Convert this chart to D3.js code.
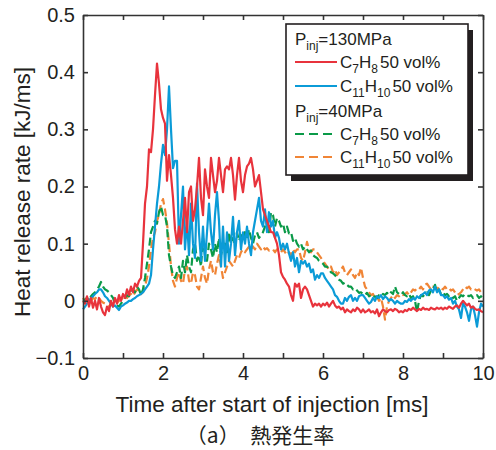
<!DOCTYPE html>
<html>
<head>
<meta charset="utf-8" />
<script src="https://d3js.org/d3.v7.min.js"></script>
<style>
    body { margin: 0; background: #fff; }
    text { font-family: "Liberation Sans", Arial, sans-serif; fill: #231f20; }
</style>
</head>
<body>
<div id="visu"></div>
<script>

// Dimensions
const largeur = 496;
const hauteur = 450;
const marge = {haut: 15, droite: 13, bas: 92, gauche: 83};

// Données : pas de temps 0.05 ms, de 0 à 10 ms
const pasTemps = 0.05;

const c7h8_130 = [
    0.0, -0.005, 0.008, -0.01, 0.005, -0.012, 0.0, -0.015, 0.005, -0.01, -0.02, -0.025, -0.01, -0.018, 0.0, -0.01, 0.005, -0.005, 0.01, 0.0,
    0.012, 0.005, 0.02, 0.01, 0.025, 0.015, 0.03, 0.025, 0.035, 0.04, 0.1, 0.17, 0.2, 0.265, 0.26, 0.3, 0.36, 0.415, 0.38, 0.335,
    0.32, 0.31, 0.21, 0.255, 0.22, 0.18, 0.125, 0.1, 0.13, 0.1, 0.14, 0.18, 0.12, 0.19, 0.2, 0.14, 0.16, 0.2, 0.25, 0.18,
    0.15, 0.23, 0.2, 0.18, 0.25, 0.22, 0.19, 0.21, 0.25, 0.22, 0.19, 0.23, 0.235, 0.23, 0.25, 0.22, 0.177, 0.22, 0.25, 0.21,
    0.19, 0.22, 0.235, 0.24, 0.25, 0.23, 0.2, 0.21, 0.22, 0.19, 0.16, 0.15, 0.14, 0.13, 0.12, 0.12, 0.11, 0.1, 0.08, 0.05,
    0.042, 0.037, 0.03, 0.025, 0.01, 0.0, 0.03, 0.025, 0.03, 0.005, 0.02, 0.025, 0.02, 0.01, 0.0, -0.01, -0.005, -0.008, -0.005, -0.01,
    -0.005, -0.008, -0.003, -0.01, -0.005, 0.0, -0.008, -0.012, -0.01, -0.015, -0.012, -0.02, -0.015, -0.018, -0.02, -0.015, -0.018, -0.012, -0.015, -0.02,
    -0.015, -0.02, -0.018, -0.015, -0.02, -0.018, -0.022, -0.015, -0.027, -0.02, -0.015, -0.018, -0.02, -0.016, -0.015, -0.018, -0.014, -0.016, -0.02, -0.018,
    -0.02, -0.016, -0.018, -0.014, -0.016, -0.012, -0.015, -0.018, -0.014, -0.016, -0.012, -0.015, -0.014, -0.016, -0.012, -0.014, -0.015, -0.012, -0.014, -0.012,
    -0.015, -0.012, -0.014, -0.01, -0.012, -0.014, -0.01, -0.008, -0.012, -0.005, 0.0, -0.004, -0.008, -0.005, -0.012, -0.01, -0.014, -0.016, -0.015, -0.018,
    -0.02
];

const c11h10_130 = [
    -0.015, -0.01, -0.005, 0.0, 0.005, 0.008, 0.012, 0.015, 0.02, 0.02, 0.015, 0.008, 0.005, 0.0, -0.005, -0.01, -0.008, -0.012, -0.016, -0.01,
    -0.008, -0.005, -0.003, 0.0, 0.0, 0.003, 0.005, 0.008, 0.01, 0.012, 0.015, 0.02, 0.025, 0.03, 0.045, 0.09, 0.13, 0.17, 0.2, 0.24,
    0.273, 0.255, 0.3, 0.375, 0.3, 0.232, 0.245, 0.245, 0.1, 0.15, 0.2, 0.09, 0.14, 0.08, 0.17, 0.1, 0.075, 0.205, 0.12, 0.07,
    0.13, 0.07, 0.12, 0.17, 0.12, 0.09, 0.15, 0.19, 0.14, 0.06, 0.13, 0.06, 0.12, 0.07, 0.1, 0.147, 0.08, 0.12, 0.14, 0.09,
    0.12, 0.1, 0.13, 0.1, 0.08, 0.12, 0.14, 0.16, 0.18, 0.14, 0.13, 0.16, 0.12, 0.155, 0.13, 0.14, 0.11, 0.12, 0.11, 0.09,
    0.1, 0.09, 0.1, 0.083, 0.07, 0.085, 0.06, 0.075, 0.05, 0.07, 0.065, 0.07, 0.06, 0.065, 0.05, 0.055, 0.037, 0.045, 0.04, 0.048,
    0.048, 0.04, 0.035, 0.03, 0.025, 0.02, 0.01, 0.007, 0.0, -0.005, -0.005, 0.005, 0.0, 0.007, 0.01, 0.0, 0.005, 0.0, 0.008, 0.01,
    0.01, 0.005, 0.0, -0.005, -0.002, 0.005, 0.0, 0.008, 0.005, 0.01, 0.003, 0.008, 0.005, 0.0, 0.003, 0.0, -0.005, 0.0, -0.003, -0.005,
    -0.005, 0.0, -0.002, 0.003, 0.0, 0.005, 0.002, 0.008, 0.005, 0.01, 0.012, 0.015, 0.01, 0.018, 0.02, 0.015, 0.025, 0.015, 0.02, 0.01,
    0.01, 0.005, 0.008, 0.002, 0.005, -0.005, 0.0, -0.01, -0.015, -0.03, -0.005, -0.01, -0.02, -0.035, -0.015, -0.01, -0.025, -0.045, -0.02, -0.005,
    -0.01
];

const c7h8_40 = [
    0.0, 0.002, 0.005, 0.0, 0.008, 0.012, 0.015, 0.02, 0.025, 0.033, 0.025, 0.02, 0.018, 0.015, 0.01, 0.005, -0.005, -0.008, -0.01, -0.005,
    0.0, 0.005, 0.01, 0.008, 0.015, 0.02, 0.015, 0.025, 0.02, 0.01, 0.02, 0.04, 0.065, 0.09, 0.12, 0.13, 0.14, 0.135, 0.155, 0.165,
    0.15, 0.15, 0.13, 0.08, 0.06, 0.045, 0.04, 0.05, 0.06, 0.04, 0.07, 0.05, 0.08, 0.06, 0.05, 0.09, 0.1, 0.07, 0.08, 0.06,
    0.11, 0.08, 0.07, 0.1, 0.09, 0.075, 0.1, 0.085, 0.11, 0.08, 0.095, 0.1, 0.085, 0.12, 0.1, 0.11, 0.095, 0.12, 0.105, 0.115,
    0.107, 0.12, 0.11, 0.125, 0.11, 0.1, 0.115, 0.12, 0.11, 0.115, 0.12, 0.13, 0.14, 0.12, 0.155, 0.15, 0.13, 0.145, 0.14, 0.13,
    0.135, 0.12, 0.13, 0.118, 0.12, 0.105, 0.11, 0.1, 0.095, 0.1, 0.09, 0.095, 0.09, 0.085, 0.088, 0.08, 0.077, 0.075, 0.07, 0.068,
    0.065, 0.06, 0.06, 0.055, 0.05, 0.048, 0.045, 0.04, 0.037, 0.035, 0.03, 0.032, 0.028, 0.025, 0.025, 0.02, 0.022, 0.018, 0.014, 0.015,
    0.012, 0.01, 0.014, 0.008, 0.01, 0.006, 0.008, 0.005, 0.01, 0.008, 0.012, 0.01, 0.014, 0.01, 0.015, 0.012, 0.025, 0.015, 0.012, 0.01,
    0.015, 0.01, 0.008, 0.012, 0.005, 0.008, 0.0, -0.02, 0.0, 0.01, 0.008, 0.012, 0.015, 0.01, 0.018, 0.02, 0.028, 0.015, 0.02, 0.012,
    0.015, 0.01, 0.012, 0.008, 0.01, 0.005, 0.008, 0.0, 0.005, 0.01, 0.008, 0.012, 0.01, 0.008, 0.01, 0.005, 0.008, 0.01, 0.005, 0.008,
    0.005
];

const c11h10_40 = [
    0.005, 0.0, 0.005, 0.002, 0.0, 0.005, 0.003, 0.008, 0.005, 0.0, -0.003, -0.005, -0.008, -0.01, -0.005, -0.008, -0.005, -0.003, 0.0, 0.003,
    0.005, 0.008, 0.005, 0.01, 0.012, 0.008, 0.015, 0.02, 0.018, 0.012, 0.015, 0.025, 0.04, 0.06, 0.09, 0.11, 0.12, 0.14, 0.15, 0.17,
    0.178, 0.16, 0.136, 0.1, 0.06, 0.035, 0.025, 0.04, 0.05, 0.035, 0.03, 0.055, 0.06, 0.035, 0.03, 0.05, 0.045, 0.025, 0.02, 0.04,
    0.06, 0.04, 0.03, 0.055, 0.07, 0.05, 0.045, 0.065, 0.08, 0.06, 0.04, 0.05, 0.06, 0.07, 0.065, 0.06, 0.07, 0.08, 0.075, 0.085,
    0.09, 0.085, 0.09, 0.095, 0.09, 0.095, 0.09, 0.1, 0.095, 0.09, 0.095, 0.09, 0.092, 0.088, 0.09, 0.09, 0.085, 0.09, 0.087, 0.085,
    0.09, 0.085, 0.08, 0.085, 0.08, 0.09, 0.085, 0.09, 0.09, 0.075, 0.07, 0.085, 0.103, 0.09, 0.085, 0.09, 0.09, 0.085, 0.08, 0.075,
    0.07, 0.065, 0.06, 0.055, 0.06, 0.05, 0.055, 0.045, 0.05, 0.055, 0.06, 0.05, 0.045, 0.05, 0.055, 0.045, 0.04, 0.05, 0.045, 0.058,
    0.04, 0.025, 0.02, 0.015, 0.01, 0.012, 0.005, 0.008, 0.0, 0.005, -0.01, -0.033, -0.01, 0.0, 0.005, 0.01, 0.005, 0.01, 0.008, 0.012,
    0.01, 0.012, 0.015, 0.01, 0.015, 0.02, 0.018, 0.022, 0.02, 0.025, 0.02, 0.028, 0.03, 0.025, 0.02, 0.025, 0.022, 0.02, 0.025, 0.022,
    0.02, 0.025, 0.02, 0.022, 0.018, 0.02, 0.015, 0.01, 0.012, 0.015, 0.02, 0.025, 0.022, 0.025, 0.02, 0.022, 0.02, 0.018, 0.02, 0.015,
    0.012
];

const ticksX = [0, 1, 2, 3, 4, 5, 6, 7, 8, 9, 10];
const ticksY = [-0.1, 0, 0.1, 0.2, 0.3, 0.4, 0.5];

const series = [
    {valeurs: c11h10_40, couleur: "#f08536", pointille: true},
    {valeurs: c7h8_40, couleur: "#0a9a48", pointille: true},
    {valeurs: c11h10_130, couleur: "#0b9bd7", pointille: false},
    {valeurs: c7h8_130, couleur: "#e8333c", pointille: false}
];

// SVG
const svg = d3.select('#visu')
    .append('svg')
    .attr('width', largeur)
    .attr('height', hauteur);

// Echelles
const echelleX = d3.scaleLinear()
    .domain([0, 10])
    .range([marge.gauche, largeur - marge.droite]);

const echelleY = d3.scaleLinear()
    .domain([-0.1, 0.5])
    .range([hauteur - marge.bas, marge.haut]);

// Lignes
const ligneGen = d3.line()
    .x((d, i) => echelleX(i * pasTemps))
    .y(d => echelleY(d));

svg.selectAll('.ligne')
    .data(series)
    .enter()
    .append('path')
    .attr('class', 'ligne')
    .attr('d', d => ligneGen(d.valeurs))
    .attr('fill', 'none')
    .attr('stroke', d => d.couleur)
    .attr('stroke-width', 2.2)
    .attr('stroke-linejoin', 'round')
    .attr('stroke-dasharray', d => d.pointille ? '8,4' : null);

// Axes (ticks vers l'intérieur)
const couleurAxe = "#333";
const styleAxe = g => {
    g.selectAll('path, line').attr('stroke', couleurAxe).attr('stroke-width', 1.6);
    g.selectAll('text').attr('font-size', 20).attr('fill', '#231f20')
        .attr('font-family', '"Liberation Sans", Arial, sans-serif');
};

svg.append('g')
    .attr('transform', `translate(0, ${hauteur - marge.bas})`)
    .call(d3.axisBottom(echelleX)
        .tickValues(ticksX)
        .tickFormat(d => d % 2 === 0 ? d : "")
        .tickSizeInner(-5).tickSizeOuter(0).tickPadding(8))
    .call(styleAxe);

svg.append('g')
    .attr('transform', `translate(0, ${marge.haut})`)
    .call(d3.axisTop(echelleX)
        .tickValues(ticksX).tickFormat("")
        .tickSizeInner(-5).tickSizeOuter(0))
    .call(styleAxe);

svg.append('g')
    .attr('transform', `translate(${marge.gauche}, 0)`)
    .call(d3.axisLeft(echelleY)
        .tickValues(ticksY)
        .tickFormat(d => d === 0 ? "0" : d3.format(".1f")(d))
        .tickSizeInner(-5).tickSizeOuter(0).tickPadding(8))
    .call(styleAxe);

svg.append('g')
    .attr('transform', `translate(${largeur - marge.droite}, 0)`)
    .call(d3.axisRight(echelleY)
        .tickValues(ticksY).tickFormat("")
        .tickSizeInner(-5).tickSizeOuter(0))
    .call(styleAxe);

// Titres des axes
svg.append('text')
    .attr('x', 272)
    .attr('y', 412)
    .attr('text-anchor', 'middle')
    .attr('font-size', 22.5)
    .text('Time after start of injection [ms]');

svg.append('text')
    .attr('transform', `translate(30, 192) rotate(-90)`)
    .attr('text-anchor', 'middle')
    .attr('font-size', 22.5)
    .text('Heat release rate [kJ/ms]');

svg.append('text')
    .attr('x', 260)
    .attr('y', 443)
    .attr('text-anchor', 'middle')
    .attr('font-size', 21)
    .style('font-family', '"Noto Sans CJK JP", sans-serif')
    .text('（a）　熱発生率');

// Légende
const legende = svg.append('g');
legende.append('rect')
    .attr('x', 291).attr('y', 30).attr('width', 182).attr('height', 151)
    .attr('fill', '#231f20');
legende.append('rect')
    .attr('x', 286).attr('y', 24).attr('width', 182).attr('height', 151)
    .attr('fill', '#fff').attr('stroke', '#231f20').attr('stroke-width', 1.6);

const titreLegende = (y, pression) => {
    const t = legende.append('text').attr('x', 295).attr('y', y).attr('font-size', 17);
    t.append('tspan').text('P');
    t.append('tspan').attr('font-size', 12).attr('dy', 5).text('inj');
    t.append('tspan').attr('dy', -5).text('=' + pression + 'MPa');
};

const entreeLegende = (y, couleur, pointille, nC, nH) => {
    legende.append('line')
        .attr('x1', 295).attr('x2', 337).attr('y1', y - 6).attr('y2', y - 6)
        .attr('stroke', couleur).attr('stroke-width', 2.2)
        .attr('stroke-dasharray', pointille ? '9,5' : null);
    const t = legende.append('text').attr('x', 340).attr('y', y).attr('font-size', 17);
    t.append('tspan').text('C');
    t.append('tspan').attr('font-size', 12).attr('dy', 5).text(nC);
    t.append('tspan').attr('dy', -5).text('H');
    t.append('tspan').attr('font-size', 12).attr('dy', 5).text(nH);
    t.append('tspan').attr('dy', -5).attr('dx', 2).text('50 vol%');
};

titreLegende(45, 130);
entreeLegende(68, "#e8333c", false, '7', '8');
entreeLegende(92, "#0b9bd7", false, '11', '10');
titreLegende(117, 40);
entreeLegende(140, "#0a9a48", true, '7', '8');
entreeLegende(163, "#f08536", true, '11', '10');

</script>
</body>
</html>
